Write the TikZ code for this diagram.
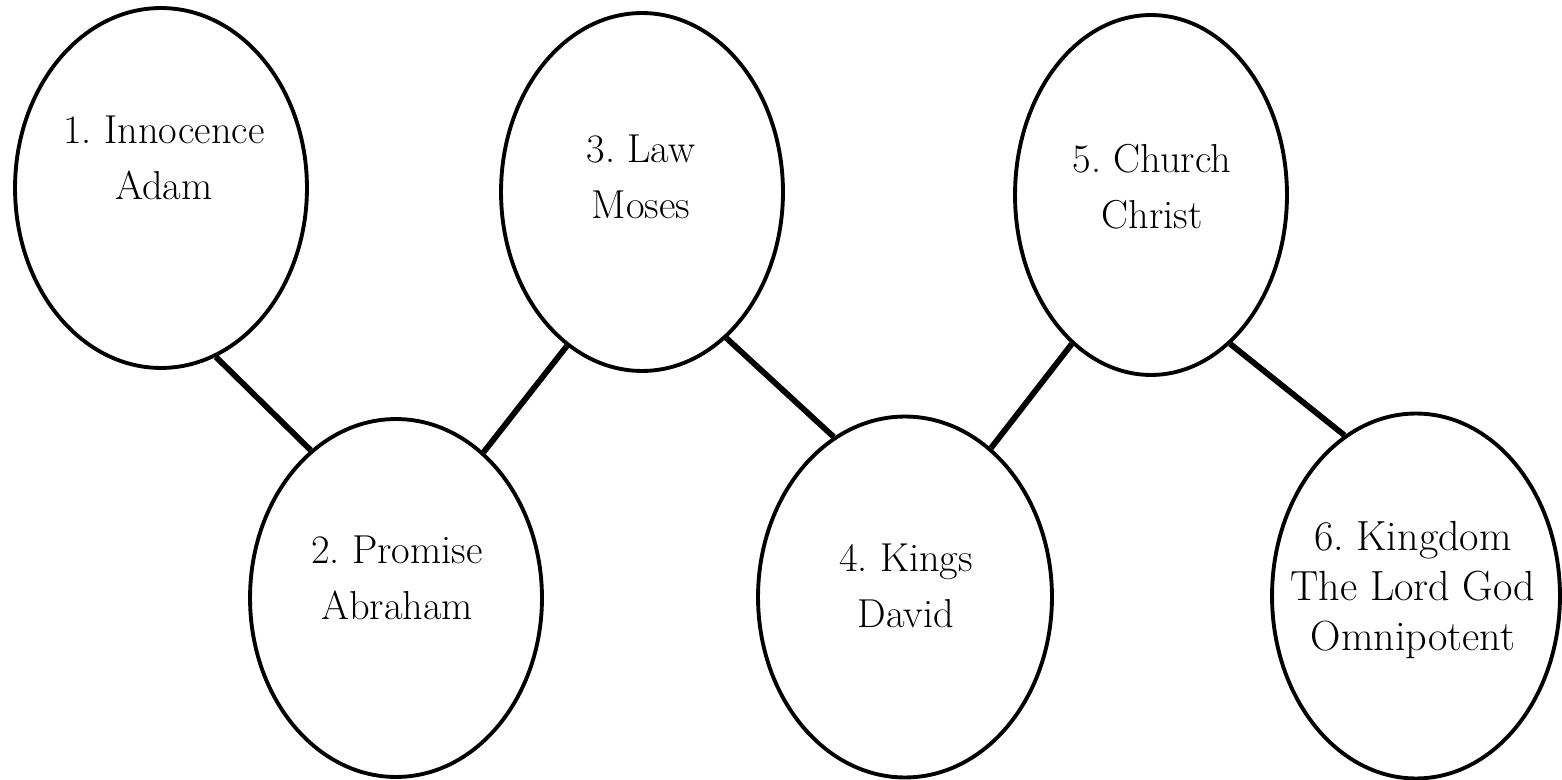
\documentclass[tikz,border=0pt]{standalone}
\usepackage{amsmath}
\usetikzlibrary{shapes.geometric}

\begin{document}
\frenchspacing
\begin{tikzpicture}[x=0.02cm,y=-0.02cm,
  age/.style={ellipse, draw, line width=2.2pt, inner sep=0pt},
  caption/.style={align=center, font=\fontsize{23}{32}\selectfont},
  link/.style={line width=3.3pt}]
%\draw[step=100,gray,very thin] (0,0) grid (1562,780);
\useasboundingbox (0,0) rectangle (1562,780);
\node[age, minimum width=5.84cm, minimum height=7.2cm] (innocence) at (161,188) {};
\node[age, minimum width=5.84cm, minimum height=7.16cm] (promise) at (396,598) {};
\node[age, minimum width=5.64cm, minimum height=7.16cm] (law) at (642,192) {};
\node[age, minimum width=5.88cm, minimum height=7.22cm] (kings) at (905,597) {};
\node[age, minimum width=5.44cm, minimum height=7.2cm] (church) at (1151,195) {};
\node[age, minimum width=5.76cm, minimum height=7.3cm] (kingdom) at (1416,596) {};
\node[caption] (innocence text) at (164,158) {1. Innocence\\Adam};
\node[caption] (promise text) at (397,578) {2. Promise\\Abraham};
\node[caption] (law text) at (641,177) {3. Law\\Moses};
\node[caption] (kings text) at (906,586) {4. Kings\\David};
\node[caption] (church text) at (1152,187) {5. Church\\Christ};
\node[caption, font=\fontsize{24}{28.5}\selectfont] (kingdom text) at (1413,590) {6. Kingdom\\The Lord God\\Omnipotent};
\draw[link] (innocence.-72) -- (promise.120);
\draw[link] (promise.59) -- (law.-116);
\draw[link] (law.-60) -- (kings.114);
\draw[link] (kings.60) -- (church.-118);
\draw[link] (church.-62) -- (kingdom.114);
\end{tikzpicture}
\end{document}
